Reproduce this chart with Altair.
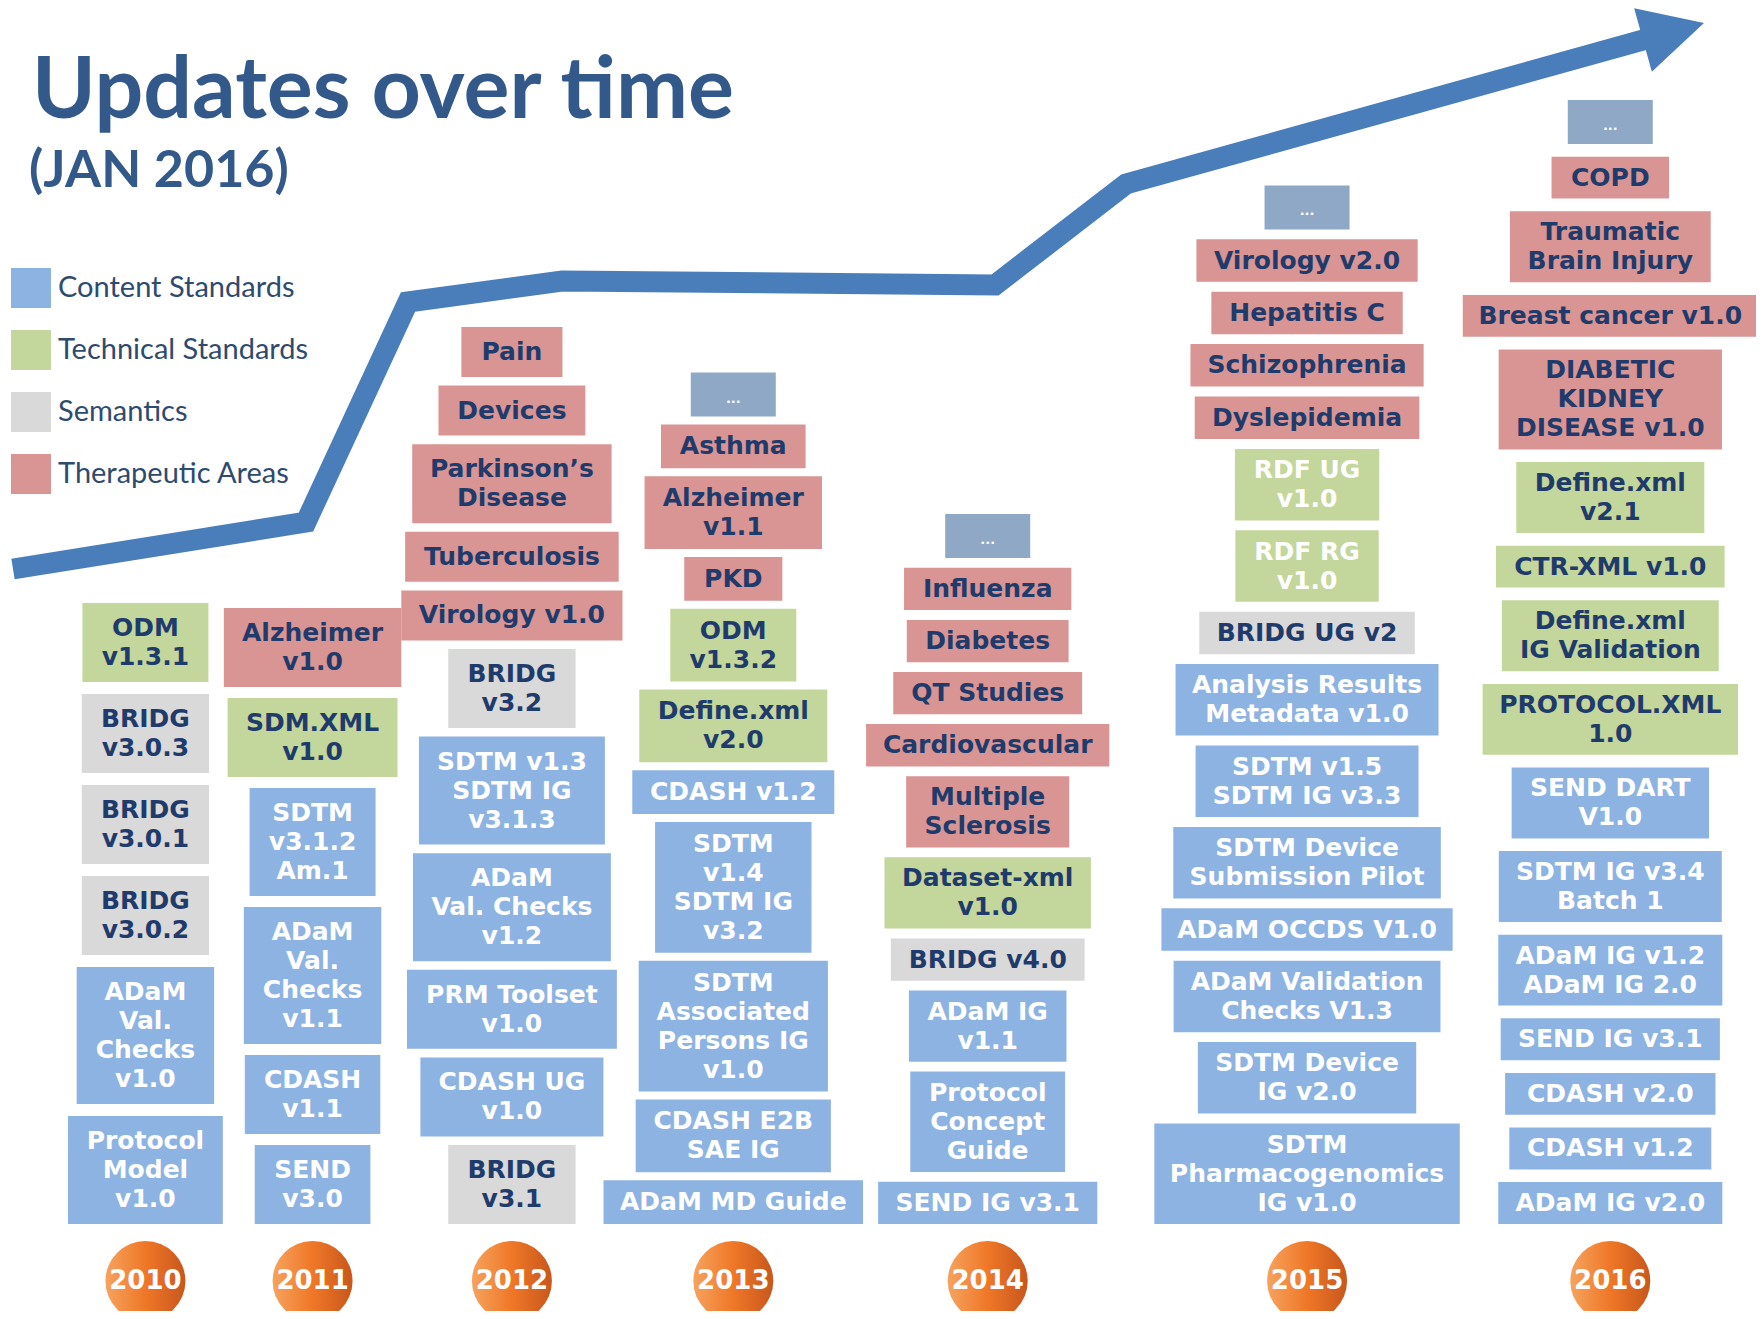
import math
import altair as alt
import pandas as pd

# ---------------- data ----------------
YEARS = ["2010", "2011", "2012", "2013", "2014", "2015", "2016"]
CATEGORIES = ["Content Standards", "Technical Standards", "Semantics", "Therapeutic Areas"]
KIND_CODES = ["C", "T", "S", "A"]   # "M" = "..." (more) box

LABELS_2010 = ["ODM\nv1.3.1", "BRIDG\nv3.0.3", "BRIDG\nv3.0.1", "BRIDG\nv3.0.2",
               "ADaM\nVal.\nChecks\nv1.0", "Protocol\nModel\nv1.0"]
KINDS_2010 = ["T", "S", "S", "S", "C", "C"]

LABELS_2011 = ["Alzheimer\nv1.0", "SDM.XML\nv1.0", "SDTM\nv3.1.2\nAm.1",
               "ADaM\nVal.\nChecks\nv1.1", "CDASH\nv1.1", "SEND\nv3.0"]
KINDS_2011 = ["A", "T", "C", "C", "C", "C"]

LABELS_2012 = ["Pain", "Devices", "Parkinson\u2019s\nDisease", "Tuberculosis", "Virology v1.0",
               "BRIDG\nv3.2", "SDTM v1.3\nSDTM IG\nv3.1.3", "ADaM\nVal. Checks\nv1.2",
               "PRM Toolset\nv1.0", "CDASH UG\nv1.0", "BRIDG\nv3.1"]
KINDS_2012 = ["A", "A", "A", "A", "A", "S", "C", "C", "C", "C", "S"]

LABELS_2013 = ["...", "Asthma", "Alzheimer\nv1.1", "PKD", "ODM\nv1.3.2", "Define.xml\nv2.0",
               "CDASH v1.2", "SDTM\nv1.4\nSDTM IG\nv3.2", "SDTM\nAssociated\nPersons IG\nv1.0",
               "CDASH E2B\nSAE IG", "ADaM MD Guide"]
KINDS_2013 = ["M", "A", "A", "A", "T", "T", "C", "C", "C", "C", "C"]

LABELS_2014 = ["...", "Influenza", "Diabetes", "QT Studies", "Cardiovascular",
               "Multiple\nSclerosis", "Dataset-xml\nv1.0", "BRIDG v4.0", "ADaM IG\nv1.1",
               "Protocol\nConcept\nGuide", "SEND IG v3.1"]
KINDS_2014 = ["M", "A", "A", "A", "A", "A", "T", "S", "C", "C", "C"]

LABELS_2015 = ["...", "Virology v2.0", "Hepatitis C", "Schizophrenia", "Dyslepidemia",
               "RDF UG\nv1.0", "RDF RG\nv1.0", "BRIDG UG v2", "Analysis Results\nMetadata v1.0",
               "SDTM v1.5\nSDTM IG v3.3", "SDTM Device\nSubmission Pilot", "ADaM OCCDS V1.0",
               "ADaM Validation\nChecks V1.3", "SDTM Device\nIG v2.0",
               "SDTM\nPharmacogenomics\nIG v1.0"]
KINDS_2015 = ["M", "A", "A", "A", "A", "T", "T", "S", "C", "C", "C", "C", "C", "C", "C"]

LABELS_2016 = ["...", "COPD", "Traumatic\nBrain Injury", "Breast cancer v1.0",
               "DIABETIC\nKIDNEY\nDISEASE v1.0", "Define.xml\nv2.1", "CTR-XML v1.0",
               "Define.xml\nIG Validation", "PROTOCOL.XML\n1.0", "SEND DART\nV1.0",
               "SDTM IG v3.4\nBatch 1", "ADaM IG v1.2\nADaM IG 2.0", "SEND IG v3.1",
               "CDASH  v2.0", "CDASH v1.2", "ADaM IG v2.0"]
KINDS_2016 = ["M", "A", "A", "A", "A", "T", "T", "T", "T", "C", "C", "C", "C", "C", "C", "C"]

COLUMNS = [(LABELS_2010, KINDS_2010), (LABELS_2011, KINDS_2011), (LABELS_2012, KINDS_2012),
           (LABELS_2013, KINDS_2013), (LABELS_2014, KINDS_2014), (LABELS_2015, KINDS_2015),
           (LABELS_2016, KINDS_2016)]

WHITE_ON_GREEN = ["RDF UG\nv1.0", "RDF RG\nv1.0"]

# trend arrow waypoints (decoration)
ARROW_X = [13, 306, 408, 562, 995, 1126, 1643]
ARROW_Y = [569, 522, 302, 281, 285, 184, 40]
ARROW_TIP = [1704, 23]

TITLE = "Updates over time"
SUBTITLE = "(JAN 2016)"

# ---------------- style / layout ----------------
COLORS = ["#8db3e2", "#c3d69b", "#d9d9d9", "#d99594"]
MORE_FILL = "#8fa8c6"
ARROW_COLOR = "#4a7ebb"
DARK = "#1f3b6b"
TITLE_COLOR = "#32598a"
LEGEND_TEXT = "#2e4b6e"

W, H = 1748, 1303
ORIGIN = 8
FONT = "DejaVu Sans"
FS = 24            # size used to measure text for box widths
TEXT_FS = 25       # size the labels are drawn at
LINE_H = 29
PAD_X = 21
MORE_W, MORE_H = 85, 44
PAD_Y = [21, 21, 21, 14.75, 13.3, 13.5, 12.9]
GAP_Y = [12, 11, 8.6, 8, 9.8, 9.9, 12.7]
COL_LEFT = 68
COL_GAPS = [1, 0, -19, 3, 45, 3]   # horizontal spacing between consecutive columns
STACK_BOTTOM = 1224
CIRCLE_Y = 1281
CIRCLE_D = 80
HEAD_HALF = 33

# approximate advance widths (em) of DejaVu Sans Bold, used to size boxes from their text
_W = {" ": .348, ".": .380, "-": .415, "\u2019": .348}
for _c in "0123456789":
    _W[_c] = .696
_W.update(dict(zip("ABCDEFGHIJKLMNOPQRSTUVWXYZ",
                   [.774, .762, .734, .830, .683, .683, .821, .837, .372, .372, .775, .637, .995,
                    .837, .850, .733, .850, .770, .720, .682, .812, .774, 1.103, .771, .724, .725])))
_W.update(dict(zip("abcdefghijklmnopqrstuvwxyz",
                   [.675, .716, .593, .716, .678, .435, .716, .712, .343, .343, .665, .343, 1.042,
                    .712, .687, .716, .716, .493, .595, .478, .712, .652, .924, .645, .652, .582])))


def text_w(s):
    return sum(_W.get(c, .68) for c in s) * FS


box_rows, line_rows, more_rows, year_rows = [], [], [], []
left = COL_LEFT
for ci, (year, (labels, kinds)) in enumerate(zip(YEARS, COLUMNS)):
    widths, heights = [], []
    for lab, k in zip(labels, kinds):
        if k == "M":
            widths.append(MORE_W)
            heights.append(MORE_H)
        else:
            lines = lab.split("\n")
            widths.append(max(text_w(l) for l in lines) + 2 * PAD_X)
            heights.append(len(lines) * LINE_H + PAD_Y[ci])
    colw = max(widths)
    if ci > 0:
        left += COL_GAPS[ci - 1]
    cx = left + colw / 2
    left += colw
    bottom = STACK_BOTTOM
    for lab, k, w, h in reversed(list(zip(labels, kinds, widths, heights))):
        top = bottom - h
        cy = (top + bottom) / 2
        row = dict(year=year, label=lab, x0=cx - w / 2, x1=cx + w / 2, y0=top, y1=bottom)
        if k == "M":
            more_rows.append(dict(row, cx=cx, cy=cy + 4, text="..."))
        else:
            row["category"] = CATEGORIES[KIND_CODES.index(k)]
            box_rows.append(row)
            lines = lab.split("\n")
            n = len(lines)
            white = (k == "C") or (lab in WHITE_ON_GREEN)
            for i, l in enumerate(lines):
                line_rows.append(dict(text=l, x=cx, y=cy + (i - (n - 1) / 2) * LINE_H,
                                      white=white))
        bottom = top - GAP_Y[ci]
    year_rows.append(dict(year=year, x=cx, y=CIRCLE_Y))

box_df = pd.DataFrame(box_rows)
more_df = pd.DataFrame(more_rows)
line_df = pd.DataFrame(line_rows)
year_df = pd.DataFrame(year_rows)

# arrow geometry
dx = ARROW_TIP[0] - ARROW_X[-1]
dy = ARROW_TIP[1] - ARROW_Y[-1]
head_len = math.hypot(dx, dy)
ux, uy = dx / head_len, dy / head_len
shaft_x = ARROW_X[:-1] + [ARROW_X[-1] + ux * 8]
shaft_y = ARROW_Y[:-1] + [ARROW_Y[-1] + uy * 8]
arrow_df = pd.DataFrame({"x": shaft_x, "y": shaft_y, "o": list(range(len(shaft_x)))})
head_df = pd.DataFrame({"x": [(ARROW_X[-1] + ARROW_TIP[0]) / 2], "y": [(ARROW_Y[-1] + ARROW_TIP[1]) / 2]})
unit = head_len / 2
hw = HEAD_HALF / unit
head_path = f"M1,0L-1,{-hw:.3f}L-1,{hw:.3f}Z"
head_angle = (math.degrees(math.atan2(dy, dx)) + 360) % 360

xs = alt.Scale(domain=[ORIGIN, ORIGIN + W], nice=False, zero=False)
ys = alt.Scale(domain=[ORIGIN + H, ORIGIN], nice=False, zero=False)


def X(f):
    return alt.X(f, type="quantitative", scale=xs, axis=None)


def Y(f):
    return alt.Y(f, type="quantitative", scale=ys, axis=None)


arrow = alt.Chart(arrow_df).mark_line(
    color=ARROW_COLOR, strokeWidth=21, strokeJoin="miter", strokeMiterLimit=10, strokeCap="butt"
).encode(x=X("x"), y=Y("y"), order="o:Q")

head = alt.Chart(head_df).mark_point(
    shape=head_path, size=(2 * unit) ** 2, filled=True, color=ARROW_COLOR, opacity=1,
    angle=head_angle, strokeWidth=0
).encode(x=X("x"), y=Y("y"))

rects = alt.Chart(box_df).mark_rect().encode(
    x=X("x0"), x2="x1:Q", y=Y("y0"), y2="y1:Q",
    color=alt.Color(
        "category:N",
        scale=alt.Scale(domain=CATEGORIES, range=COLORS),
        legend=alt.Legend(
            title=None, orient="none", legendX=3, legendY=260, symbolType="square",
            symbolSize=1600, symbolStrokeWidth=0, symbolOpacity=1, labelFont="Lato",
            labelFontSize=29, labelColor=LEGEND_TEXT, labelOffset=7, rowPadding=22,
            padding=0, labelLimit=400,
        ),
    ),
)

more_rects = alt.Chart(more_df).mark_rect(color=MORE_FILL).encode(
    x=X("x0"), x2="x1:Q", y=Y("y0"), y2="y1:Q"
)
more_text = alt.Chart(more_df).mark_text(
    font=FONT, fontWeight="bold", fontSize=13, color="white", baseline="middle"
).encode(x=X("cx"), y=Y("cy"), text="text:N")

dark_text = alt.Chart(line_df[~line_df["white"]]).mark_text(
    font=FONT, fontWeight="bold", fontSize=TEXT_FS, color=DARK, baseline="middle", align="center"
).encode(x=X("x"), y=Y("y"), text="text:N")

white_text = alt.Chart(line_df[line_df["white"]]).mark_text(
    font=FONT, fontWeight="bold", fontSize=TEXT_FS, color="white", baseline="middle", align="center"
).encode(x=X("x"), y=Y("y"), text="text:N")

orange = alt.LinearGradient(
    gradient="linear", x1=0, x2=1, y1=0, y2=0,
    stops=[alt.GradientStop(offset=0, color="#f6a35e"),
           alt.GradientStop(offset=0.5, color="#ef7727"),
           alt.GradientStop(offset=1, color="#c8571c")],
)
circles = alt.Chart(year_df).mark_point(
    shape="circle", size=CIRCLE_D ** 2, filled=True, fill=orange, opacity=1, strokeWidth=0
).encode(x=X("x"), y=Y("y"))

year_text = alt.Chart(year_df).mark_text(
    font=FONT, fontWeight="bold", fontSize=26, color="white", baseline="middle"
).encode(x=X("x"), y=Y("y"), text="year:N")

title = alt.Chart(pd.DataFrame({"t": [TITLE]})).mark_text(
    align="left", baseline="alphabetic", font="Lato", fontWeight="bold", fontSize=86,
    color=TITLE_COLOR
).encode(x=alt.value(24), y=alt.value(110), text="t:N")

subtitle = alt.Chart(pd.DataFrame({"t": [SUBTITLE]})).mark_text(
    align="left", baseline="alphabetic", font="Lato", fontWeight="bold", fontSize=52,
    color=TITLE_COLOR
).encode(x=alt.value(21), y=alt.value(179), text="t:N")

chart = alt.layer(
    arrow, head, rects, more_rects, dark_text, white_text, more_text, circles, year_text,
    title, subtitle
).properties(
    width=W, height=H, padding=0, autosize=alt.AutoSizeParams(type="none")
).configure_view(stroke=None)

chart.save("out.html", embed_options={"renderer": "svg", "actions": False})
